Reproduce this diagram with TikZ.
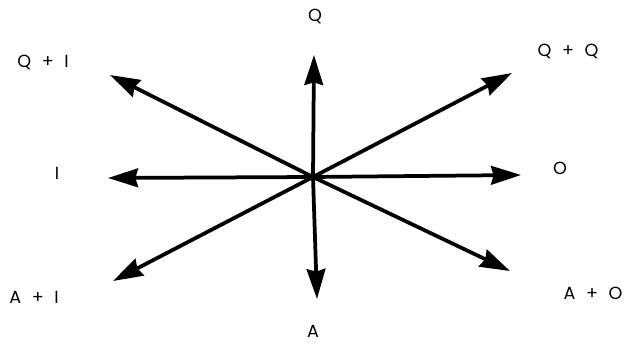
\documentclass[tikz,border=0pt]{standalone}
\usepackage{fontspec}
\setmainfont{Poppins}
\usetikzlibrary{arrows.meta}
\newcommand{\kplus}{\hspace{9pt}+\hspace{9pt}}

\begin{document}
\begin{tikzpicture}[x=0.03cm,y=-0.03cm,
  every node/.style={font=\fontsize{15}{17}\selectfont},
  lbl/.style={inner sep=1pt},
  ar/.style={-{Stealth[length=9mm,width=5.6mm,inset=0.8mm]},line width=3.2pt}]
\useasboundingbox (0,0) rectangle (635,345);
\coordinate (c) at (313,177);
\node[lbl] (q) at (315,16) {Q};
\node[lbl] (qo) at (568,51) {Q\kplus Q};
\node[lbl] (o) at (560,168) {O};
\node[lbl] (ao) at (593,293) {A\kplus O};
\node[lbl] (a) at (313,331) {A};
\node[lbl] (ai) at (34,297) {A\kplus I};
\node[lbl] (i) at (57,173) {I};
\node[lbl] (qi) at (43,62) {Q\kplus I};
\coordinate (tq) at (314,55);
\coordinate (tqo) at (512,73);
\coordinate (to) at (521,175);
\coordinate (tao) at (510,271);
\coordinate (ta) at (317,299);
\coordinate (tai) at (113,281);
\coordinate (ti) at (108,178);
\coordinate (tqi) at (110,75);
\foreach \t in {tq,tqo,to,tao,ta,tai,ti,tqi} \draw[ar] (c) -- (\t);
\end{tikzpicture}
\end{document}
